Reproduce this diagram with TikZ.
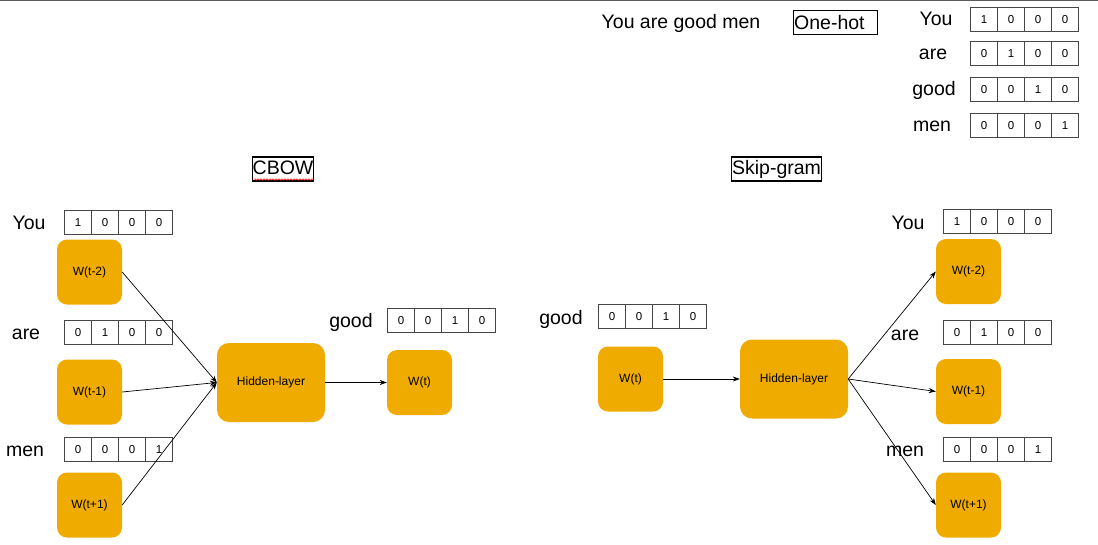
\documentclass[tikz,border=0pt]{standalone}
\usepackage{fontspec}
\setmainfont{Liberation Sans}
\usetikzlibrary{arrows.meta,decorations.pathmorphing}
\definecolor{wbox}{RGB}{240,171,0}
\definecolor{cellline}{RGB}{70,70,70}
\newcommand\ohrow[4]{%
  \foreach \d [count=\i] in {#4} {%
    \node[cell, anchor=north west] (#1-\i) at ({#2+(\i-1)*27},#3) {\d};}}
\begin{document}
\begin{tikzpicture}[x=1pt,y=-1pt,
  lbl/.style={font=\fontsize{19.5}{22}\selectfont, anchor=base, inner sep=0},
  cell/.style={draw=cellline, line width=0.9pt, minimum width=27, minimum height=24, inner sep=0, font=\fontsize{11.5}{14}\selectfont},
  wnode/.style={fill=wbox, rounded corners=10pt, minimum width=65, minimum height=65, inner sep=0, font=\fontsize{12}{14}\selectfont},
  hnode/.style={fill=wbox, rounded corners=12pt, minimum width=108, minimum height=79, inner sep=0, font=\fontsize{12}{14}\selectfont},
  title/.style={draw, line width=1.3pt, font=\fontsize{19.5}{22}\selectfont, inner xsep=0.5pt, inner ysep=2.5pt, text height=15pt, text depth=4pt},
  arr/.style={-{Stealth[length=7pt,width=5pt]}, line width=0.7pt}
]
\useasboundingbox (0,0) rectangle (1098,544);
\coordinate (tl) at (0,0.6);
\coordinate (tr) at (1098,0.6);
\draw[black!65, line width=1.2pt] (tl) -- (tr);

% top area
\node[lbl] (sent) at (681,28.5) {You are good men};
\node[draw, line width=1.2pt, minimum width=84, minimum height=24, inner sep=0, anchor=north west] (ohbox) at (793,10) {};
\node[lbl, anchor=base west] (ohtext) at (794,29.5) {One-hot};
\node[lbl] (tyou) at (936,25) {You};
\node[lbl] (tare) at (933,59.5) {are};
\node[lbl] (tgood) at (934,95.5) {good};
\node[lbl] (tmen) at (932,131.5) {men};
\ohrow{ta}{970}{7}{1,0,0,0}
\ohrow{tb}{970}{41}{0,1,0,0}
\ohrow{tc}{970}{77}{0,0,1,0}
\ohrow{td}{970}{113}{0,0,0,1}

% titles
\node[title] (cbow) at (283,169) {CBOW};
\coordinate (sq1) at (254,179.5);
\coordinate (sq2) at (314,179.5);
\draw[red, line width=0.5pt, decorate, decoration={snake, amplitude=0.8pt, segment length=3pt}] (sq1) -- (sq2);
\node[title] (skip) at (776.5,169) {Skip-gram};

% CBOW
\node[lbl] (lyou) at (29,229) {You};
\ohrow{la}{64}{210}{1,0,0,0}
\node[wnode] (w2) at (89.5,272) {W(t-2)};
\node[lbl] (lare) at (26,339) {are};
\ohrow{lb}{64}{320}{0,1,0,0}
\node[wnode] (w1) at (89.5,392) {W(t-1)};
\node[lbl] (lmen) at (25,456) {men};
\ohrow{lc}{64}{437}{0,0,0,1}
\node[wnode] (w3) at (89.5,505) {W(t+1)};
\node[hnode] (hid) at (271,382.5) {Hidden-layer};
\node[lbl] (lgood) at (351,327) {good};
\ohrow{ld}{387}{308}{0,0,1,0}
\node[wnode] (wt) at (419.5,382.5) {W(t)};
\draw[arr] (w2.east) -- (hid.west);
\draw[arr] (w1.east) -- (hid.west);
\draw[arr] (w3.east) -- (hid.west);
\draw[arr] (hid.east) -- (wt.west);

% Skip-gram
\node[lbl] (rgood) at (561,324) {good};
\ohrow{rd}{598}{304}{0,0,1,0}
\node[wnode] (wt2) at (630.5,379) {W(t)};
\node[hnode] (hid2) at (794,379) {Hidden-layer};
\node[lbl] (ryou) at (908,229) {You};
\ohrow{ra}{943}{209}{1,0,0,0}
\node[wnode] (s2) at (968.5,271.5) {W(t-2)};
\node[lbl] (rare) at (905,340) {are};
\ohrow{rb}{943}{320}{0,1,0,0}
\node[wnode] (s1) at (968.5,391.5) {W(t-1)};
\node[lbl] (rmen) at (905,456) {men};
\ohrow{rc}{943}{437}{0,0,0,1}
\node[wnode] (s3) at (968.5,505) {W(t+1)};
\draw[arr] (wt2.east) -- (hid2.west);
\draw[arr] (hid2.east) -- (s2.west);
\draw[arr] (hid2.east) -- (s1.west);
\draw[arr] (hid2.east) -- (s3.west);
\end{tikzpicture}
\end{document}
